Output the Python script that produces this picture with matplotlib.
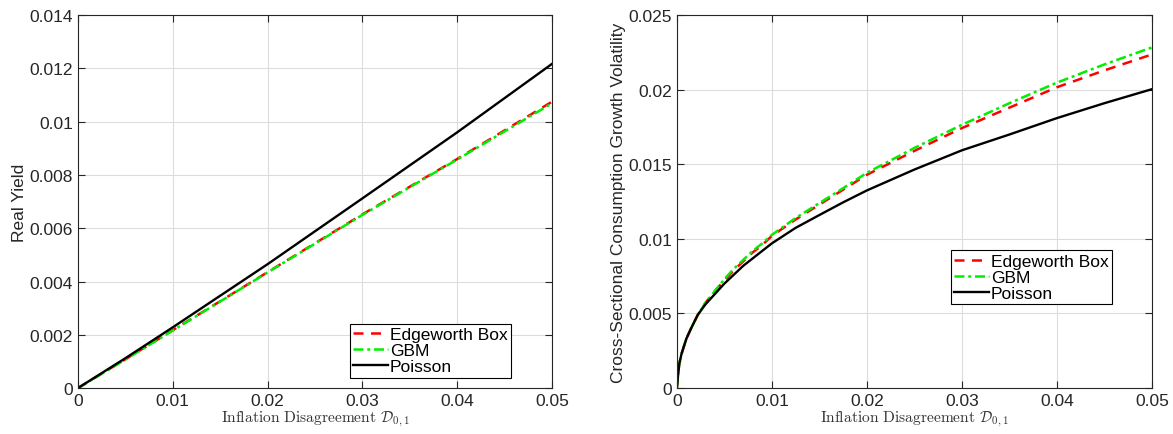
import matplotlib
matplotlib.use("Agg")
import matplotlib.pyplot as plt
from matplotlib.ticker import FuncFormatter

plt.rcParams['font.family'] = ['Liberation Sans', 'DejaVu Sans']
plt.rcParams['mathtext.fontset'] = 'cm'

labels = ["Edgeworth Box", "GBM", "Poisson"]

# left panel: real yield
x_left = [0, 0.005, 0.01, 0.02, 0.03, 0.04, 0.05]
edge_left = [0, 0.00108, 0.00217, 0.00435, 0.00652, 0.0086, 0.01075]
gbm_left = [0, 0.00107, 0.00216, 0.00434, 0.0065, 0.00858, 0.01069]
pois_left = [0, 0.00112, 0.00228, 0.00465, 0.00712, 0.0096, 0.01217]

# right panel: cross-sectional consumption growth volatility
x_right = [0, 0.00025, 0.0005, 0.001, 0.0015, 0.0022, 0.003, 0.004, 0.005, 0.006,
           0.007, 0.008, 0.009, 0.01, 0.0125, 0.015, 0.0175, 0.02, 0.025,
           0.03, 0.035, 0.04, 0.045, 0.05]
edge_right = [0, 0.0016, 0.0023, 0.0033, 0.0040, 0.0049, 0.0057, 0.0065, 0.0072, 0.0079,
              0.0085, 0.0091, 0.0096, 0.0102, 0.0113, 0.0123, 0.0133, 0.0143, 0.0159,
              0.01743, 0.0188, 0.02017, 0.0213, 0.02237]
gbm_right = [0, 0.0016, 0.0023, 0.0033, 0.0040, 0.0049, 0.0057, 0.0065, 0.0073, 0.0080,
             0.0086, 0.0092, 0.0097, 0.01027, 0.0114, 0.0124, 0.0134, 0.01443, 0.0161,
             0.01765, 0.0191, 0.02048, 0.0217, 0.02284]
pois_right = [0, 0.0016, 0.0023, 0.0033, 0.0040, 0.0049, 0.0056, 0.0063, 0.0070, 0.0076,
              0.0082, 0.0087, 0.0092, 0.0097, 0.01074, 0.0116, 0.01245, 0.01325, 0.01465,
              0.01594, 0.0170, 0.0181, 0.0191, 0.02004]

fmt = FuncFormatter(lambda v, p: "%g" % round(v, 6))
xlab = r"$\mathrm{Inflation\ Disagreement}\ \mathcal{D}_{0,1}$"

fig = plt.figure(figsize=(11.73, 4.35), dpi=100)
ax1 = fig.add_axes([0.0665, 0.1057, 0.404, 0.857])
ax2 = fig.add_axes([0.577, 0.1057, 0.405, 0.857])


def draw(ax, x, e, g, p, ymax, ystep, ylabel, leg_pos):
    ax.plot(x, e, color="red", linestyle=(0, (4, 3)), lw=1.8, label=labels[0])
    ax.plot(x, g, color="#00ee00", linestyle=(0, (4, 1.5, 1.2, 1.5)), lw=1.8, label=labels[1])
    ax.plot(x, p, color="black", lw=1.7, label=labels[2])
    ax.set_xlim(0, 0.05)
    ax.set_ylim(0, ymax)
    ax.set_xticks([0, 0.01, 0.02, 0.03, 0.04, 0.05])
    n = int(round(ymax / ystep))
    ax.set_yticks([i * ystep for i in range(n + 1)])
    ax.xaxis.set_major_formatter(fmt)
    ax.yaxis.set_major_formatter(fmt)
    ax.tick_params(direction="in", length=5, labelsize=12.5, top=True, right=True,
                   colors="#262626", labelcolor="#262626", width=0.8)
    ax.grid(True, color="#dcdcdc", lw=0.8)
    ax.set_axisbelow(True)
    for s in ax.spines.values():
        s.set_color("#262626")
        s.set_linewidth(0.8)
    ax.set_xlabel(xlab, fontsize=11.2, color="#333333", labelpad=1)
    ax.set_ylabel(ylabel, fontsize=12.5, color="#262626", labelpad=2)
    leg = ax.legend(loc="lower left", bbox_to_anchor=leg_pos, fancybox=False,
                    edgecolor="black", framealpha=1, fontsize=12.5,
                    handlelength=2.0, handletextpad=0.1, labelspacing=0.05,
                    borderpad=0.2, borderaxespad=0)
    leg.get_frame().set_linewidth(0.8)


draw(ax1, x_left, edge_left, gbm_left, pois_left, 0.014, 0.002, "Real Yield", (0.574, 0.027))
draw(ax2, x_right, edge_right, gbm_right, pois_right, 0.025, 0.005,
     "Cross-Sectional Consumption Growth Volatility", (0.577, 0.225))

fig.savefig("out.png", dpi=100)
